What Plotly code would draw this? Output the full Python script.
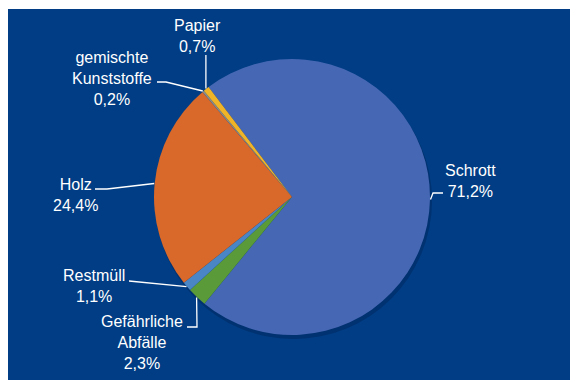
import math
import plotly.graph_objects as go

# ---- data ----
labels = ["Schrott", "Gefährliche Abfälle", "Restmüll", "Holz", "gemischte Kunststoffe", "Papier"]
label_lines = ["Schrott", "Gefährliche<br>Abfälle", "Restmüll", "Holz", "gemischte<br>Kunststoffe", "Papier"]
values = [71.2, 2.3, 1.1, 24.4, 0.2, 0.7]
colors = ["#4668b4", "#5a9a38", "#4a86c5", "#d8692a", "#8c8c8c", "#f0b429"]

# ---- layout parameters (page pixels) ----
W, H = 570, 380
CX, CY, R = 292, 197, 138
ROTATION = -37.2
BG = "#003d84"
label_pos = [(470, 181), (141.5, 342), (93.5, 286), (75, 195), (111.5, 78), (197.5, 36)]
leader_pts = [
    [(443, 193), (433, 193)],
    [(187, 327), (197, 327)],
    [(129, 281)],
    [(95, 189), (107, 189)],
    [(157, 82), (166, 82)],
    [(None, 55)],
]

fig = go.Figure()
fig.add_trace(go.Pie(
    labels=labels, values=values, sort=False, direction="clockwise",
    rotation=ROTATION, textinfo="none", hoverinfo="label+percent",
    marker=dict(colors=colors, line=dict(width=0)),
    domain=dict(x=[(CX - R) / W, (CX + R) / W], y=[1 - (CY + R) / H, 1 - (CY - R) / H]),
    showlegend=False,
))

# invisible pixel-coordinate axes for shapes/annotations
fig.update_xaxes(range=[0, W], visible=False, fixedrange=True)
fig.update_yaxes(range=[H, 0], visible=False, fixedrange=True)

shapes = [
    dict(type="rect", x0=8, y0=9, x1=W, y1=H, fillcolor=BG, line=dict(width=0), layer="below"),
    dict(type="circle", x0=CX - R + 1, y0=CY - R + 3, x1=CX + R + 2, y1=CY + R + 4,
         fillcolor="rgba(0,10,40,0.22)", line=dict(width=0), layer="below"),
]

total = sum(values)
start = ROTATION
annotations = []
for i, v in enumerate(values):
    span = v / total * 360.0
    mid = math.radians(start + span / 2)
    start += span
    ax = CX + (R + 0.5) * math.sin(mid)
    ay = CY - (R + 0.5) * math.cos(mid)
    pts = [(ax if px is None else px, py) for px, py in leader_pts[i]] + [(ax, ay)]
    path = "M " + " L ".join(f"{x:.1f},{y:.1f}" for x, y in pts)
    shapes.append(dict(type="path", path=path, line=dict(color="white", width=1.3), layer="above"))
    pct = f"{v:.1f}".replace(".", ",") + "%"
    lx, ly = label_pos[i]
    annotations.append(dict(x=lx, y=ly, xref="x", yref="y", text=f"{label_lines[i]}<br>{pct}",
                            showarrow=False, xanchor="center", yanchor="middle",
                            font=dict(family="Liberation Sans, Arial, sans-serif", size=16, color="white")))

fig.update_layout(
    width=W, height=H, margin=dict(l=0, r=0, t=0, b=0),
    paper_bgcolor="white", plot_bgcolor="rgba(0,0,0,0)",
    shapes=shapes, annotations=annotations,
)

fig.write_html("out.html", config={"displayModeBar": False},
               post_script="document.body.style.margin='0';document.body.style.overflow='hidden';")
